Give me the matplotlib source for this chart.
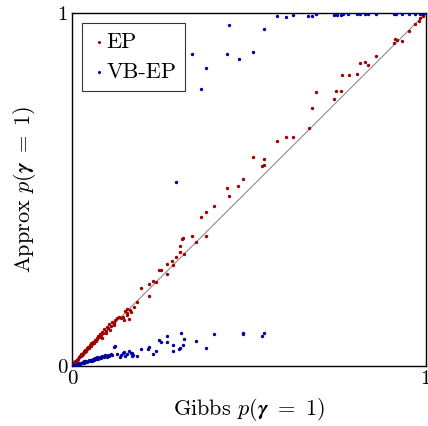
import matplotlib
matplotlib.use('Agg')
import matplotlib.pyplot as plt

# Gibbs vs approximate posterior inclusion probabilities
ep_gibbs = [0.983, 0.991, 0.980, 0.968, 0.951, 0.910, 0.913, 0.919, 0.932, 0.859,
            0.814, 0.827, 0.837, 0.805, 0.764, 0.782, 0.746, 0.759, 0.689, 0.741,
            0.677, 0.669, 0.580, 0.605, 0.625, 0.513, 0.544, 0.544, 0.537, 0.483,
            0.438, 0.470, 0.443, 0.402, 0.378, 0.364, 0.340, 0.352, 0.378, 0.314,
            0.310, 0.304, 0.317, 0.304, 0.293, 0.283, 0.270, 0.286, 0.247, 0.251,
            0.268, 0.230, 0.239, 0.218, 0.195, 0.218, 0.183, 0.175, 0.164, 0.156,
            0.150, 0.166, 0.155, 0.145, 0.140, 0.147, 0.162, 0.155,
            0.002, 0.004, 0.005, 0.007, 0.008, 0.010, 0.011, 0.013, 0.014, 0.016,
            0.018, 0.019, 0.021, 0.023, 0.025, 0.026, 0.028, 0.030, 0.032, 0.034,
            0.036, 0.038, 0.040, 0.042, 0.044, 0.046, 0.049, 0.051, 0.053, 0.055,
            0.058, 0.060, 0.062, 0.065, 0.067, 0.070, 0.072, 0.075, 0.078, 0.080,
            0.083, 0.086, 0.089, 0.092, 0.095, 0.099, 0.102, 0.106, 0.110, 0.113,
            0.118, 0.122, 0.127, 0.132, 0.085, 0.097, 0.108, 0.120]
ep_approx = [0.985, 0.991, 0.978, 0.968, 0.950, 0.916, 0.926, 0.924, 0.920, 0.879,
             0.859, 0.861, 0.853, 0.829, 0.824, 0.824, 0.780, 0.780, 0.778, 0.757,
             0.732, 0.675, 0.637, 0.648, 0.648, 0.592, 0.586, 0.571, 0.566, 0.530,
             0.505, 0.511, 0.481, 0.454, 0.437, 0.421, 0.368, 0.351, 0.369, 0.362,
             0.359, 0.341, 0.317, 0.324, 0.308, 0.297, 0.289, 0.286, 0.272, 0.272,
             0.260, 0.242, 0.239, 0.231, 0.222, 0.198, 0.182, 0.168, 0.159, 0.161,
             0.157, 0.154, 0.149, 0.140, 0.135, 0.130, 0.133, 0.144,
             0.003, 0.006, 0.005, 0.010, 0.009, 0.014, 0.012, 0.017, 0.016, 0.021,
             0.020, 0.025, 0.024, 0.029, 0.027, 0.033, 0.031, 0.037, 0.035, 0.041,
             0.039, 0.046, 0.043, 0.050, 0.047, 0.054, 0.052, 0.059, 0.056, 0.064,
             0.061, 0.069, 0.066, 0.074, 0.071, 0.080, 0.076, 0.086, 0.082, 0.091,
             0.088, 0.097, 0.094, 0.104, 0.100, 0.111, 0.107, 0.118, 0.114, 0.124,
             0.122, 0.130, 0.135, 0.138, 0.080, 0.092, 0.101, 0.116]

vb_gibbs = [0.580, 0.605, 0.625, 0.668, 0.677, 0.689, 0.741, 0.748, 0.759, 0.765,
            0.781, 0.806, 0.814, 0.827, 0.836, 0.859, 0.910, 0.917, 0.933, 0.951,
            0.968, 0.983, 0.991, 0.997,
            0.543, 0.513, 0.444, 0.340, 0.438, 0.471, 0.378, 0.364, 0.295,
            0.402, 0.482, 0.307, 0.268, 0.316, 0.352, 0.246, 0.251, 0.269, 0.286,
            0.314, 0.305, 0.303, 0.378, 0.285, 0.239, 0.219, 0.216, 0.195, 0.229,
            0.184, 0.119, 0.483, 0.537, 0.544, 0.169, 0.173,
            0.002, 0.004, 0.006, 0.008, 0.010, 0.012, 0.014, 0.016, 0.018, 0.020,
            0.023, 0.025, 0.028, 0.030, 0.033, 0.035, 0.038, 0.041, 0.044, 0.047,
            0.050, 0.053, 0.056, 0.059, 0.062, 0.065, 0.068, 0.072, 0.075, 0.079,
            0.082, 0.086, 0.090, 0.094, 0.098, 0.102, 0.106, 0.110, 0.114, 0.121,
            0.127, 0.140, 0.148, 0.155, 0.166, 0.171, 0.160, 0.150, 0.143, 0.135]
vb_approx = [0.992, 0.989, 0.994, 0.992, 0.992, 0.997, 0.994, 0.994, 0.994, 0.997,
             0.997, 0.999, 0.999, 0.997, 0.999, 0.997, 0.999, 0.999, 0.999, 0.999,
             0.999, 0.999, 0.999, 1.000,
             0.956, 0.890, 0.966, 0.884, 0.884, 0.869, 0.844, 0.784, 0.522,
             0.090, 0.092, 0.093, 0.086, 0.076, 0.070, 0.073, 0.068, 0.069, 0.058,
             0.059, 0.052, 0.047, 0.050, 0.042, 0.042, 0.055, 0.049, 0.049, 0.034,
             0.029, 0.055, 0.091, 0.085, 0.092, 0.036, 0.031,
             0.001, 0.002, 0.002, 0.003, 0.004, 0.003, 0.005, 0.006, 0.004, 0.007,
             0.006, 0.009, 0.008, 0.011, 0.009, 0.013, 0.011, 0.014, 0.012, 0.016,
             0.014, 0.018, 0.015, 0.020, 0.017, 0.022, 0.019, 0.024, 0.020, 0.026,
             0.022, 0.028, 0.024, 0.030, 0.026, 0.032, 0.028, 0.034, 0.030, 0.057,
             0.033, 0.031, 0.040, 0.034, 0.036, 0.029, 0.041, 0.027, 0.038, 0.025]

plt.rcParams['font.family'] = 'serif'
plt.rcParams['font.serif'] = ['cmr10']
plt.rcParams['mathtext.fontset'] = 'cm'
plt.rcParams['axes.formatter.use_mathtext'] = True

fig = plt.figure(figsize=(4.28, 4.26), dpi=100)
ax = fig.add_axes([0.168, 0.141, 0.827, 0.828])

ax.plot([0, 1], [0, 1], color='#8c8c8c', lw=0.8, zorder=1)
ax.scatter(ep_gibbs, ep_approx, s=6, color='#a00000', lw=0, label='EP', zorder=3)
ax.scatter(vb_gibbs, vb_approx, s=6, color='#0000a0', lw=0, label='VB-EP', zorder=3)

ax.set_xlim(0, 1)
ax.set_ylim(0, 1)
ax.set_xticks([0, 1])
ax.set_yticks([0, 1])
ax.set_xticklabels(['0', '1'])
ax.set_yticklabels(['0', '1'])
ax.tick_params(direction='in', length=3, labelsize=15, pad=3)
for sp in ax.spines.values():
    sp.set_linewidth(1.0)

ax.set_xlabel(r'Gibbs $p(\boldsymbol{\gamma}\ =\ 1)$', fontsize=16, labelpad=6)
ax.set_ylabel(r'Approx $p(\boldsymbol{\gamma}\ =\ 1)$', fontsize=16, labelpad=14)

leg = ax.legend(loc='upper left', fontsize=16, fancybox=False, edgecolor='black',
                handletextpad=0.0, handlelength=0.7, borderpad=0.4,
                labelspacing=0.5, markerscale=0.9, borderaxespad=0.45)
leg.get_frame().set_linewidth(0.8)

fig.savefig('out.png', dpi=100)
